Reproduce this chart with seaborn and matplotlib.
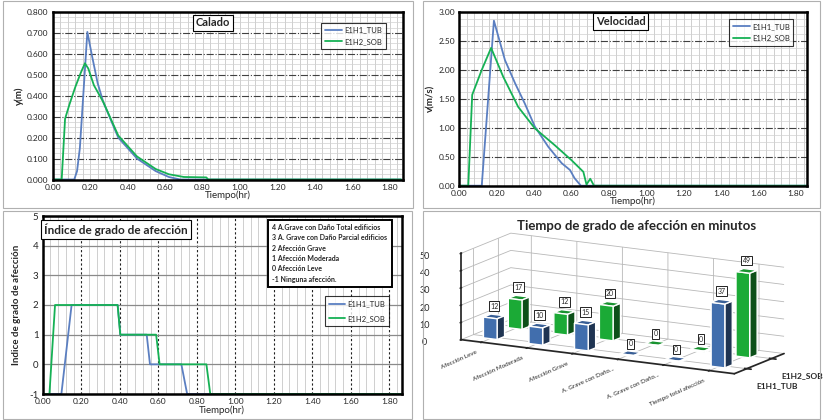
import matplotlib
matplotlib.use("Agg")
import matplotlib.pyplot as plt
import numpy as np
import pandas as pd
import seaborn as sns
from matplotlib.patches import Rectangle
from matplotlib.ticker import MultipleLocator

# --- data ---
series = ["E1H1_TUB", "E1H2_SOB"]
colors = {"E1H1_TUB": "#5b7fc1", "E1H2_SOB": "#16b155"}

calado_t_tub = [0, 0.115, 0.13, 0.145, 0.185, 0.21, 0.24, 0.27, 0.35, 0.45, 0.55, 0.62, 0.68, 1.86]
calado_y_tub = [0, 0, 0.04, 0.15, 0.705, 0.59, 0.46, 0.37, 0.20, 0.10, 0.04, 0.012, 0.0, 0.0]
calado_t_sob = [0, 0.048, 0.066, 0.09, 0.12, 0.15, 0.172, 0.19, 0.22, 0.27, 0.35, 0.45, 0.55, 0.62,
                0.70, 0.82, 0.83, 1.86]
calado_y_sob = [0, 0, 0.29, 0.36, 0.44, 0.51, 0.555, 0.53, 0.45, 0.37, 0.21, 0.11, 0.05, 0.025,
                0.012, 0.01, 0, 0]

vel_t_tub = [0, 0.12, 0.185, 0.244, 0.298, 0.35, 0.404, 0.476, 0.547, 0.592, 0.616, 0.65, 1.86]
vel_v_tub = [0, 0, 2.85, 2.17, 1.77, 1.42, 1.02, 0.67, 0.39, 0.27, 0.13, 0, 0]
vel_t_sob = [0, 0.048, 0.069, 0.12, 0.17, 0.235, 0.315, 0.404, 0.51, 0.60, 0.663, 0.68, 0.70, 0.72, 1.86]
vel_v_sob = [0, 0, 1.57, 2.0, 2.38, 1.88, 1.36, 0.99, 0.70, 0.44, 0.24, 0.02, 0.12, 0, 0]

ind_t_tub = [0, 0.097, 0.15, 0.389, 0.403, 0.54, 0.557, 0.72, 0.75, 1.86]
ind_v_tub = [-1, -1, 2, 2, 1, 1, 0, 0, -1, -1]
ind_t_sob = [0, 0.035, 0.064, 0.389, 0.403, 0.589, 0.607, 0.85, 0.87, 1.86]
ind_v_sob = [-1, -1, 2, 2, 1, 1, 0, 0, -1, -1]

niveles = ["4 A.Grave con Daño Total edificios",
           "3 A. Grave con Daño Parcial edificios",
           "2 Afección Grave",
           "1 Afección Moderada",
           "0 Afección Leve",
           "-1 Ninguna afección."]

categorias = ["Afección Leve", "Afección Moderada", "Afección Grave",
              "A. Grave con Daño...", "A. Grave con Daño...", "Tiempo total afección"]
min_tub = [12, 10, 15, 0, 0, 37]
min_sob = [17, 12, 20, 0, 0, 49]


def long_df(t1, v1, t2, v2):
    a = pd.DataFrame({"t": t1, "v": v1, "serie": series[0]})
    b = pd.DataFrame({"t": t2, "v": v2, "serie": series[1]})
    return pd.concat([a, b], ignore_index=True)


sns.set_theme(style="white")
plt.rcParams["font.family"] = ["Lato", "DejaVu Sans"]

W, H = 831, 420
fig = plt.figure(figsize=(W / 100, H / 100), dpi=100)
fig.patch.set_facecolor("white")


def px(l, t, r, b):
    return [l / W, 1 - b / H, (r - l) / W, (b - t) / H]


# panel frames
for (l, t, r, b) in [(3, 1, 413, 208), (423, 1, 820, 208), (3, 211, 412, 419), (423, 211, 820, 419)]:
    fig.patches.append(Rectangle((l / W, 1 - b / H), (r - l) / W, (b - t) / H,
                                 transform=fig.transFigure, fill=False,
                                 edgecolor="#b0b0b0", linewidth=0.8))


def style_line_ax(ax, xmax, ymin, ymax, ymaj, ymin_step, fmt):
    ax.set_xlim(0, xmax)
    ax.set_ylim(ymin, ymax)
    ax.xaxis.set_major_locator(MultipleLocator(0.2))
    ax.xaxis.set_minor_locator(MultipleLocator(0.04))
    ax.yaxis.set_major_locator(MultipleLocator(ymaj))
    if ymin_step:
        ax.yaxis.set_minor_locator(MultipleLocator(ymin_step))
    ax.xaxis.set_major_formatter(plt.FormatStrFormatter("%.2f"))
    ax.yaxis.set_major_formatter(plt.FormatStrFormatter(fmt))
    ax.tick_params(axis="both", which="major", labelsize=6, length=0, pad=3)
    ax.tick_params(which="minor", length=0)
    for s in ax.spines.values():
        s.set_color("black")
        s.set_linewidth(1.8)
    ax.set_xlabel("Tiempo(hr)", fontsize=7, labelpad=0)


def line_legend(ax, anchor, spacing=0.6):
    handles, labels = ax.get_legend_handles_labels()
    leg = ax.legend(handles, labels, loc="upper left", bbox_to_anchor=anchor,
                    fontsize=5.5, frameon=True, fancybox=False, edgecolor="black",
                    handlelength=2.2, borderpad=0.5, labelspacing=spacing, handletextpad=0.3)
    leg.get_frame().set_linewidth(0.8)


def title_box(ax, x, y, text, size=8):
    ax.text(x, y, text, transform=ax.transAxes, fontsize=size, fontweight="bold",
            ha="center", va="center",
            bbox=dict(boxstyle="square,pad=0.25", facecolor="white", edgecolor="black", linewidth=0.8))


# --- Calado ---
ax1 = fig.add_axes(px(52.7, 12, 403, 179.5))
df1 = long_df(calado_t_tub, calado_y_tub, calado_t_sob, calado_y_sob)
sns.lineplot(data=df1, x="t", y="v", hue="serie", palette=colors, estimator=None, sort=False,
             linewidth=1.3, ax=ax1)
style_line_ax(ax1, 1.87, 0, 0.8, 0.1, 0.025, "%.3f")
ax1.grid(which="both", axis="x", color="#c8c8c8", linewidth=0.6)
ax1.grid(which="minor", axis="y", color="#d0d0d0", linewidth=0.5)
ax1.grid(which="major", axis="y", color="#404040", linewidth=0.8, linestyle="-.")
ax1.set_axisbelow(True)
ax1.set_ylabel("y(m)", fontsize=7, fontweight="bold", labelpad=2)
title_box(ax1, 0.458, 0.935, "Calado")
line_legend(ax1, (0.755, 0.96))

# --- Velocidad ---
ax2 = fig.add_axes(px(459.3, 12, 806.7, 185.7))
df2 = long_df(vel_t_tub, vel_v_tub, vel_t_sob, vel_v_sob)
sns.lineplot(data=df2, x="t", y="v", hue="serie", palette=colors, estimator=None, sort=False,
             linewidth=1.3, ax=ax2)
style_line_ax(ax2, 1.857, 0, 3.0, 0.5, 0.125, "%.2f")
ax2.grid(which="both", axis="x", color="#c8c8c8", linewidth=0.6)
ax2.grid(which="minor", axis="y", color="#d0d0d0", linewidth=0.5)
ax2.grid(which="major", axis="y", color="#404040", linewidth=0.8, linestyle="-.")
ax2.set_axisbelow(True)
ax2.set_ylabel("v(m/s)", fontsize=7, fontweight="bold", labelpad=2)
title_box(ax2, 0.464, 0.945, "Velocidad")
line_legend(ax2, (0.765, 0.98))

# --- Indice de grado de afeccion ---
ax3 = fig.add_axes(px(42.7, 216, 401.7, 394))
df3 = long_df(ind_t_tub, ind_v_tub, ind_t_sob, ind_v_sob)
sns.lineplot(data=df3, x="t", y="v", hue="serie", palette=colors, estimator=None, sort=False,
             linewidth=1.3, ax=ax3)
style_line_ax(ax3, 1.864, -1, 5, 1, None, "%d")
ax3.tick_params(axis="y", labelsize=7)
ax3.grid(which="minor", axis="x", color="#c8c8c8", linewidth=0.6)
ax3.grid(which="major", axis="x", color="#202020", linewidth=0.8, linestyle=(0, (2, 2)))
ax3.grid(which="major", axis="y", color="#8a8a8a", linewidth=0.9)
ax3.set_axisbelow(True)
ax3.set_ylabel("Indice de grado de afección", fontsize=7, fontweight="bold", labelpad=6)
title_box(ax3, 0.204, 0.924, "Índice de grado de afección", size=8.5)
ax3.text(0.64, 0.955, "\n".join(niveles), transform=ax3.transAxes, fontsize=5, fontweight="bold",
         ha="left", va="top", linespacing=1.55,
         bbox=dict(boxstyle="square,pad=0.6", facecolor="white", edgecolor="black", linewidth=1.4))
line_legend(ax3, (0.775, 0.57), spacing=1.0)

# --- 3D bar chart ---
ax4 = fig.add_axes(px(430, 211, 810, 401), projection="3d")
ax4.patch.set_alpha(0)
ax4.set_proj_type("ortho")
ax4.set_box_aspect((6.7, 2.2, 1.9), zoom=1.74)
ax4.view_init(elev=13, azim=-61)
xs = np.arange(len(categorias))
bw = 0.3
bar_colors = {"E1H1_TUB": "#4a7cc4", "E1H2_SOB": "#1fc03d"}
for row, (vals, name) in [(1, (min_sob, series[1])), (0, (min_tub, series[0]))]:
    for i, v in enumerate(vals):
        bars = ax4.bar3d(xs[i] - bw / 2 + 0.15, row - bw / 2, 0, bw, bw, max(v, 0.6),
                         color=bar_colors[name], shade=True)
        bars.set_clip_on(False)
        ax4.text(xs[i] + 0.15, row, v + 4, str(v), fontsize=5, ha="center", va="bottom", zorder=10,
                 bbox=dict(boxstyle="square,pad=0.2", facecolor="white", edgecolor="black",
                           linewidth=0.6))
ax4.set_xlim(-0.3, len(categorias) - 0.3)
ax4.set_ylim(-0.5, 1.5)
ax4.set_zlim(0, 50)
ax4.set_xticks(xs + 0.15)
ax4.set_xticklabels(categorias, fontsize=4.5, rotation=24, ha="right", va="top")
ax4.set_yticks([0, 1])
ax4.set_yticklabels(series, fontsize=6, fontweight="bold")
ax4.set_zticks(range(0, 51, 10))
ax4.zaxis.set_ticks_position("lower")
ax4.tick_params(axis="z", labelsize=6.5, pad=0)
ax4.tick_params(axis="x", pad=-3)
ax4.tick_params(axis="y", pad=0)
for a in (ax4.xaxis, ax4.yaxis, ax4.zaxis):
    a.set_pane_color((1, 1, 1, 0))
    a.pane.set_edgecolor("black")
    a._axinfo["grid"]["color"] = "#b8b8b8"
    a._axinfo["grid"]["linewidth"] = 0.6
ax4.grid(True)
fig.text(637 / W, 1 - 226 / H, "Tiempo de grado de afección en minutos", fontsize=9.5,
         fontweight="bold", ha="center", va="center")

fig.savefig("out.png", dpi=100, facecolor="white")
